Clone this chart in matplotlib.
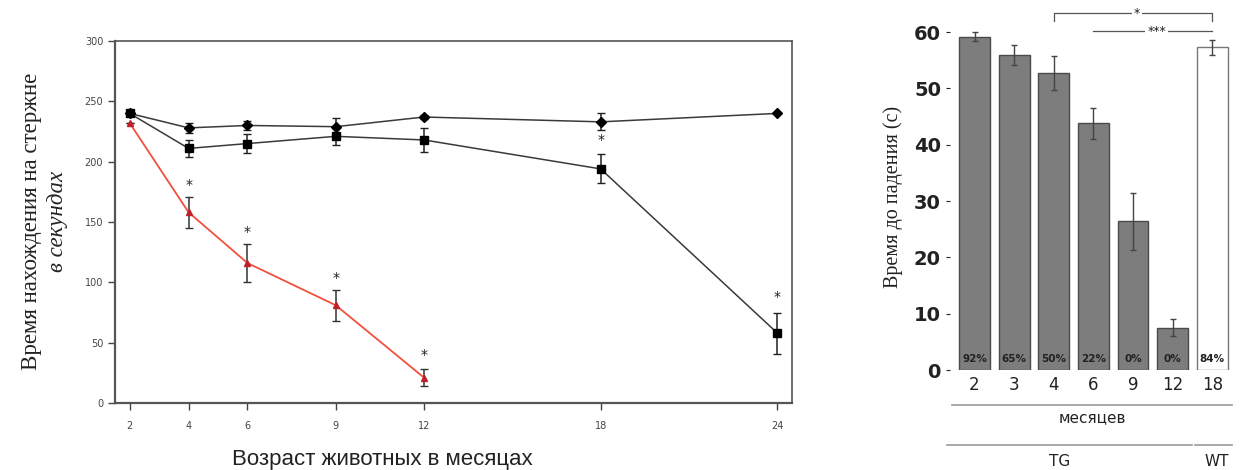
import matplotlib
matplotlib.use("Agg")
import matplotlib.pyplot as plt
import numpy as np

# ---- Left chart data ----
months = [2, 4, 6, 9, 12, 18, 24]
wt_mean = [240, 228, 230, 229, 237, 233, 240]
wt_err = [0, 4, 4, 7, 2, 7, 0]
tg_mean = [240, 211, 215, 221, 218, 194, 58]
tg_err = [0, 7, 8, 7, 10, 12, 17]
red_months = [2, 4, 6, 9, 12]
red_mean = [232, 158, 116, 81, 21]
red_err = [0, 13, 16, 13, 7]
star_x = [4, 6, 9, 12, 18, 24]
star_y = [181, 142, 104, 40, 218, 88]

# ---- Right chart data ----
bar_labels = ["2", "3", "4", "6", "9", "12", "18"]
bar_mean = [59.2, 55.9, 52.8, 43.8, 26.4, 7.5, 57.3]
bar_err = [0.8, 1.8, 3.0, 2.8, 5.0, 1.5, 1.3]
bar_pct = ["92%", "65%", "50%", "22%", "0%", "0%", "84%"]
bar_group = ["TG", "TG", "TG", "TG", "TG", "TG", "WT"]

fig = plt.figure(figsize=(12.4, 4.7), dpi=100)

# ===== Left =====
ax = fig.add_axes([115/1240, 1-403/470, (792-115)/1240, (403-41)/470])
lc = "#3a3a3a"
ax.errorbar(months, wt_mean, yerr=wt_err, color=lc, lw=1.1, marker="D", ms=5,
            mfc="black", mec="black", ecolor="#222", elinewidth=1.1, capsize=3)
ax.errorbar(months, tg_mean, yerr=tg_err, color=lc, lw=1.1, marker="s", ms=6,
            mfc="black", mec="black", ecolor="#222", elinewidth=1.1, capsize=3)
ax.errorbar(red_months, red_mean, yerr=red_err, color="#f2503c", lw=1.3, marker="^", ms=4,
            mfc="#c0202a", mec="#c0202a", ecolor="#333", elinewidth=1.1, capsize=3)
for x, y in zip(star_x, star_y):
    ax.text(x, y, "*", ha="center", va="center", fontsize=10, color="#222")
ax.set_xlim(1.5, 24.5)
ax.set_ylim(0, 300)
ax.set_xticks(months)
ax.set_yticks(range(0, 301, 50))
ax.tick_params(axis="both", labelsize=7, colors="#444", length=5, width=1)
ax.tick_params(axis="x", pad=8)
for s in ax.spines.values():
    s.set_color("#555")
    s.set_linewidth(1.2)
ax.spines["left"].set_linewidth(1.6)
ax.spines["bottom"].set_linewidth(1.6)

fig.text(32/1240, 1-221/470, "Время нахождения на стержне", rotation=90, ha="center",
         va="center", family="Liberation Serif", fontsize=16.5, color="#222")
fig.text(58/1240, 1-221/470, "в секундах", rotation=90, ha="center", va="center",
         family="Liberation Serif", style="italic", fontsize=16.5, color="#222")
fig.text(382/1240, 1-459/470, "Возраст животных в месяцах", ha="center", va="center",
         family="Liberation Sans", fontsize=16, color="#222")

# ===== Right =====
ax2 = fig.add_axes([950/1240, 1-370/470, (1232-950)/1240, (370-4)/470])
xs = np.arange(len(bar_labels))
colors = ["#7d7d7d" if g == "TG" else "white" for g in bar_group]
edges = ["#4a4a4a" if g == "TG" else "#777" for g in bar_group]
ax2.bar(xs, bar_mean, width=0.78, color=colors, edgecolor=edges, linewidth=1.0,
        yerr=bar_err, ecolor="#444", error_kw=dict(elinewidth=1.0, capsize=2.5))
for x, p in zip(xs, bar_pct):
    ax2.text(x, 1.9, p, ha="center", va="center", fontsize=7.5, fontweight="bold", color="#222")
ax2.set_xlim(-0.62, 6.5)
ax2.set_ylim(0, 65)
ax2.set_yticks(range(0, 61, 10))
ax2.set_xticks(xs)
ax2.set_xticklabels(bar_labels)
for s in ax2.spines.values():
    s.set_visible(False)
ax2.axhline(0, color="#999", lw=0.8, ls=":")
ax2.tick_params(axis="y", labelsize=14, length=3, colors="#222", width=0.8)
for t in ax2.get_yticklabels():
    t.set_fontweight("bold")
ax2.tick_params(axis="x", length=0, labelsize=12, pad=4, colors="#222")

# significance brackets
ax2.plot([2, 2, 6, 6], [62.0, 63.4, 63.4, 62.0], color="#555", lw=0.9, clip_on=False)
ax2.text(4.1, 63.4, "*", ha="center", va="center", fontsize=9, color="#222",
         bbox=dict(fc="white", ec="none", pad=1.5))
ax2.plot([3, 6], [60.2, 60.2], color="#555", lw=0.9, clip_on=False)
ax2.text(4.6, 60.2, "***", ha="center", va="center", fontsize=9, color="#222",
         bbox=dict(fc="white", ec="none", pad=1.5))

# group lines below
fig.add_artist(plt.Line2D([952/1240, 1232/1240], [1-405/470, 1-405/470], color="#999", lw=1.2))
fig.text(1092/1240, 1-418/470, "месяцев", ha="center", va="center", fontsize=11, color="#222")
fig.add_artist(plt.Line2D([947/1240, 1192/1240], [1-445/470, 1-445/470], color="#999", lw=1.2))
fig.add_artist(plt.Line2D([1195/1240, 1232/1240], [1-445/470, 1-445/470], color="#999", lw=1.2))
fig.text(1060/1240, 1-461/470, "TG", ha="center", va="center", fontsize=11, color="#222")
fig.text(1217/1240, 1-461/470, "WT", ha="center", va="center", fontsize=11, color="#222")
fig.text(893/1240, 1-197/470, "Время до падения (с)", rotation=90, ha="center", va="center",
         family="Liberation Serif", fontsize=14.5, color="#222")

fig.savefig("out.png", dpi=100)
